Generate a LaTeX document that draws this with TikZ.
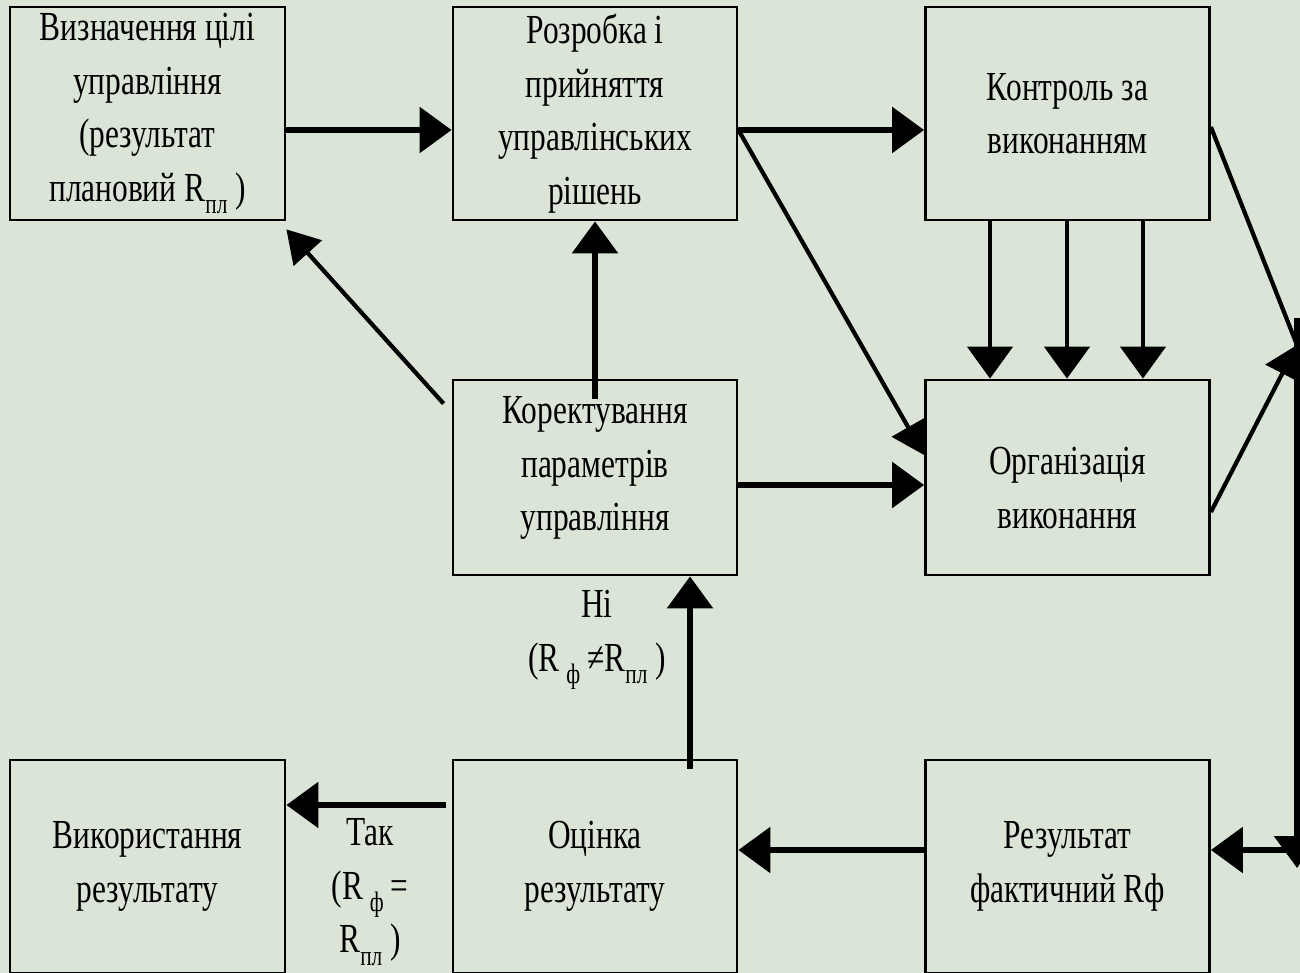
\documentclass[tikz,border=0pt]{standalone}
\usepackage{fontspec}
\setmainfont[FakeStretch=0.76]{Liberation Serif}
\usepackage{xcolor}
\usetikzlibrary{arrows.meta}

\definecolor{bg}{RGB}{218,229,216}
\newcommand{\sbs}[1]{\raisebox{-0.3em}{\fontsize{16}{16}\selectfont #1}}

\tikzset{
  box/.style={draw, line width=1.6pt, fill=bg, align=center, inner sep=0pt,
    minimum width=56.8mm, minimum height=42.6mm},
  arr/.style={line width=3.4pt, -{Triangle[length=6.4mm,width=9mm]}},
  thinarr/.style={line width=2.4pt, -{Triangle[length=6.4mm,width=7.5mm]}}
}

\begin{document}
\begin{tikzpicture}[x=0.2mm, y=-0.2mm,
  every node/.style={font=\fontsize{23.5}{30.5}\selectfont}]

\useasboundingbox (0,0) rectangle (1300,973);
\fill[bg] (0,0) rectangle (1300,973);
\clip (0,0) rectangle (1300,973);

% upper row
\node[box, minimum width=55mm] (goal) at (147.5,113.5)
  {Визначення цілі\\управління\\(результат\\плановий R\sbs{пл} )};
\node[box] (develop) at (595,113.5)
  {Розробка і\\прийняття\\управлінських\\рішень};
\node[box] (control) at (1067.5,113.5) {Контроль за\\виконанням};

% middle row
\node[box, minimum height=39mm, text depth=5.5mm] (correct) at (595,477.5)
  {Коректування\\параметрів\\управління};
\node[box, minimum height=39mm, text height=20.5mm] (organize) at (1067.5,477.5)
  {Організація\\виконання};

% lower row
\node[box, minimum width=55mm] (use) at (147.5,866.5)
  {Використання\\результату};
\node[box] (assess) at (595,866.5) {Оцінка\\результату};
\node[box] (result) at (1067.5,866.5) {Результат\\фактичний Rф};

% labels
\node[align=center] (no) at (597,640) {Ні\\(R\,\sbs{ф}\,≠R\sbs{пл} )};
\node[align=center] (yes) at (370,892) {Так\\(R\,\sbs{ф}\,=\\R\sbs{пл} )};

% arrows
\draw[arr] (goal.east |- 0,130) -- (develop.west |- 0,130);
\draw[arr] (develop.east |- 0,130) -- (control.west |- 0,130);
\draw[thinarr] (develop.east |- 0,130) -- (organize.west |- 0,455);
\foreach \x in {990,1067,1143}
  \draw[arr, line width=2.8pt] (control.south -| \x,0) -- (organize.north -| \x,0);
\draw[arr] (correct.north) ++(0,20) -- (develop.south);
\draw[thinarr] ([shift={(-8,25)}]correct.north west) -- ([shift={(0,8)}]goal.south east);
\draw[arr] (correct.east |- 0,485) -- (organize.west |- 0,485);
\draw[arr] (assess.north -| 690,0) ++(0,10) -- (correct.south -| 690,0);
\draw[arr] (assess.west |- 0,805) ++(-6,0) -- (use.east |- 0,805);
\draw[arr] (result.west |- 0,850) -- (assess.east |- 0,850);

% right side
\coordinate (junc) at (1297,345);
\draw[thinarr, -] (control.east |- 0,127) -- (junc);
\draw[thinarr] (organize.east |- 0,512) -- (junc);
\draw[arr] (1297,318) -- (1297,868);
\draw[arr] (1297,850) -- (result.east |- 0,850);

\end{tikzpicture}
\end{document}
